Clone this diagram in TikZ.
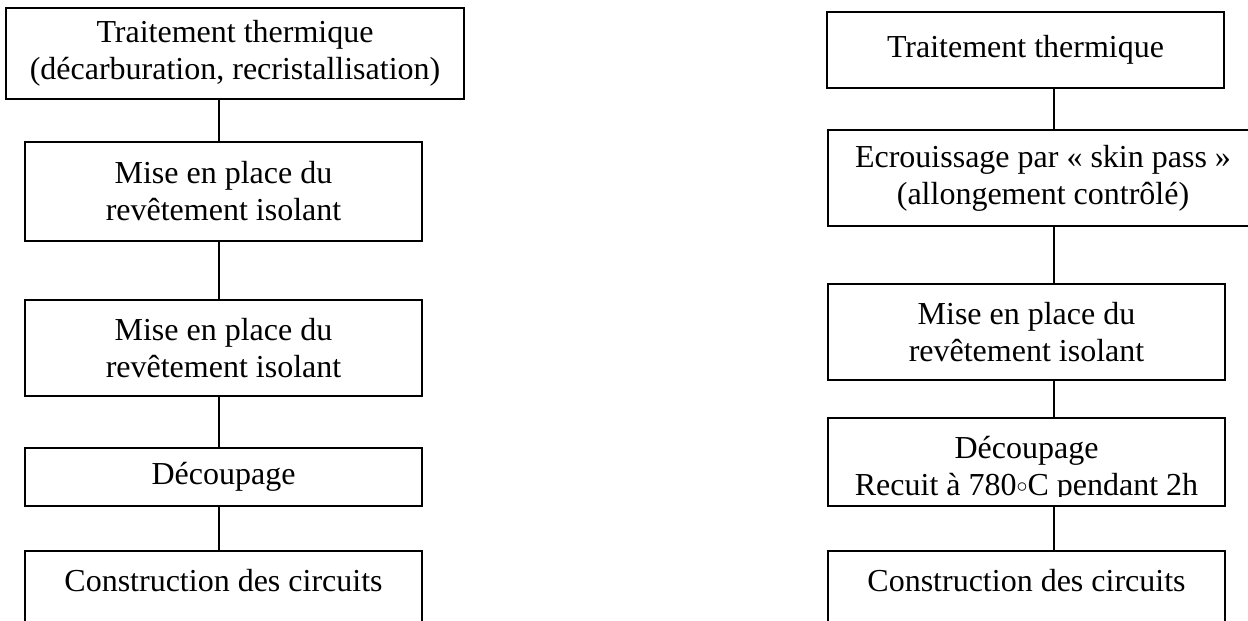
\documentclass[tikz,border=0pt]{standalone}
\usepackage{fontspec}
\setmainfont{Liberation Serif}

\begin{document}
\begin{tikzpicture}[
    x=0.5pt, y=-0.5pt,
    every node/.style={inner sep=0pt, align=center, font=\fontsize{16}{18.5}\selectfont},
    procbox/.style={draw, line width=0.9pt, minimum width=198.5pt},
    link/.style={line width=0.8pt}
]
\useasboundingbox (0,0) rectangle (1248,621);

% left chain
\node[procbox, minimum width=229pt, minimum height=45.5pt] (l1) at (235,53.5) {Traitement thermique\\(décarburation, recristallisation)};
\node[procbox, minimum height=49.5pt] (l2) at (223.5,191.5) {Mise en place du\\revêtement isolant};
\node[procbox, minimum height=48pt] (l3) at (223.5,348) {Mise en place du\\revêtement isolant};
\node[procbox, minimum height=29pt] (l4) at (223.5,477) {Découpage};
\node[procbox, anchor=north, text height=20.5pt, text depth=60pt] (l5) at (223.5,550) {Construction des circuits};

% right chain
\node[procbox, minimum height=38pt] (r1) at (1025.5,50) {Traitement thermique};
\node[procbox, minimum width=215pt, minimum height=48pt] (r2) at (1043,178) {Ecrouissage par « skin pass »\\(allongement contrôlé)};
\node[procbox, minimum height=48pt] (r3) at (1026.5,332) {Mise en place du\\revêtement isolant};
\node[procbox, minimum height=44pt] (r4) at (1026.5,462) {};
\begin{scope}
  % second line runs past the frame and gets cut
  \clip (r4.north west) rectangle ([yshift=5pt]r4.south east);
  \node (r4txt) at (1026.5,469) {Découpage\\Recuit à 780\raisebox{1.6pt}{$\scriptstyle\circ$}C pendant 2h};
\end{scope}
\node[procbox, anchor=north, text height=20.5pt, text depth=60pt] (r5) at (1026.5,550) {Construction des circuits};

% links
\coordinate (lx) at (219,0);
\coordinate (rx) at (1054,0);
\draw[link] (l1.south -| lx) -- (l2.north -| lx);
\draw[link] (l2.south -| lx) -- (l3.north -| lx);
\draw[link] (l3.south -| lx) -- (l4.north -| lx);
\draw[link] (l4.south -| lx) -- (l5.north -| lx);
\draw[link] (r1.south -| rx) -- (r2.north -| rx);
\draw[link] (r2.south -| rx) -- (r3.north -| rx);
\draw[link] (r3.south -| rx) -- (r4.north -| rx);
\draw[link] (r4.south -| rx) -- (r5.north -| rx);
\end{tikzpicture}
\end{document}
